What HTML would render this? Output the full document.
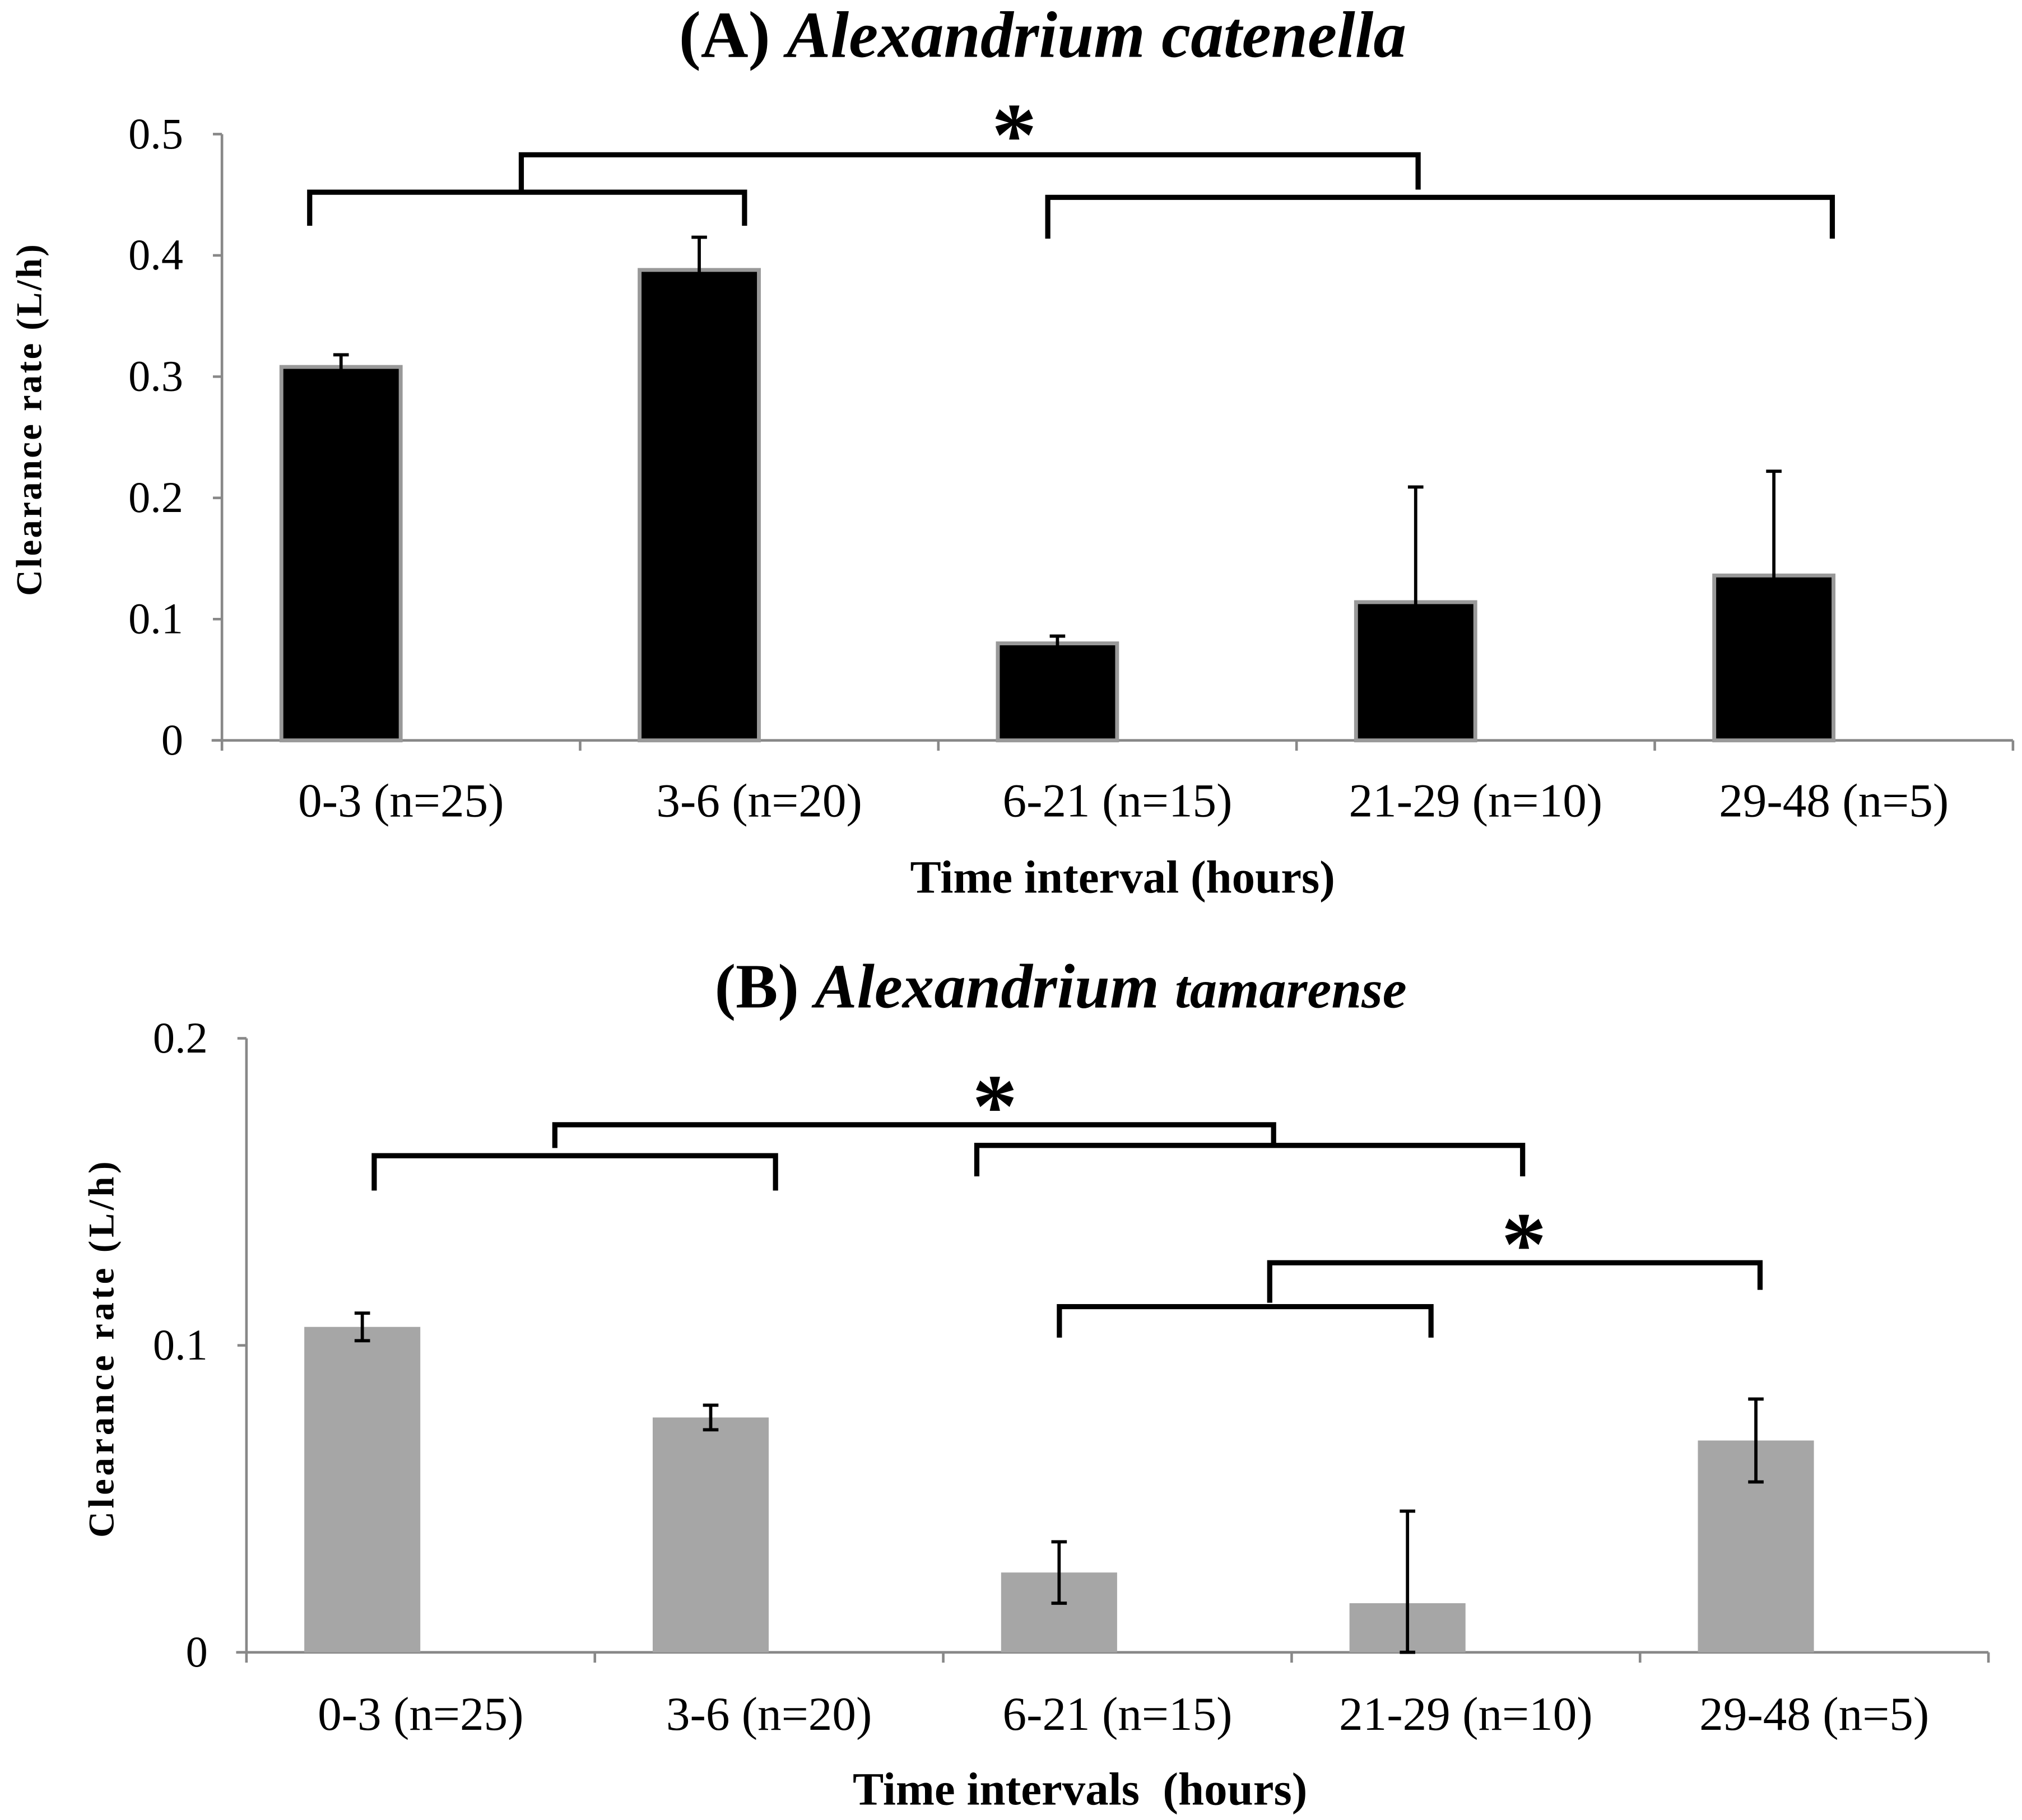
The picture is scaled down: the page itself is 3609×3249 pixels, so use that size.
<!DOCTYPE html>
<html><head><meta charset="utf-8"><style>
html,body{margin:0;padding:0;background:#fff}
svg{display:block}
text{font-family:"Liberation Serif",serif}
</style></head><body>
<svg id="chart" width="3609" height="3249" viewBox="0 0 1567 1411" preserveAspectRatio="none" xmlns="http://www.w3.org/2000/svg">
<rect width="1567" height="1411" fill="#fff"/>
<g id="pa"></g>
<g id="pb"></g>
</svg>
<script>
const categories = ["0-3 (n=25)","3-6 (n=20)","6-21 (n=15)","21-29 (n=10)","29-48 (n=5)"];
const valuesA = [0.308,0.388,0.080,0.114,0.136];
const errorsA = [0.010,0.027,0.006,0.095,0.086];
const ticksA = [0,0.1,0.2,0.3,0.4,0.5];
const tickLabelsA = ["0","0.1","0.2","0.3","0.4","0.5"];
const valuesB = [0.106,0.0765,0.026,0.016,0.069];
const errorsB = [0.0045,0.004,0.010,0.030,0.0135];
const ticksB = [0,0.1,0.2];
const tickLabelsB = ["0","0.1","0.2"];

const NS="http://www.w3.org/2000/svg";
function mk(parent,tag,attrs,txt){const e=document.createElementNS(NS,tag);for(const k in attrs)e.setAttribute(k,attrs[k]);if(txt!==undefined)e.textContent=txt;parent.appendChild(e);return e;}

function panel(g,cfg){
  const {x0,x1,yTop,yBot,max,vals,errs,ticks,labels,fill,stroke}=cfg;
  const y=v=>yBot-(v/max)*(yBot-yTop);
  const cw=(x1-x0)/categories.length;
  const ax=mk(g,'line',{x1:x0,y1:yTop,x2:x0,y2:yBot,stroke:'#888',"stroke-width":2});
  
  
  const bx=mk(g,'line',{x1:x0-8,y1:yBot,x2:x1,y2:yBot,stroke:'#888',"stroke-width":2});
  
  
  ticks.forEach((t,i)=>{
    const tk=mk(g,'line',{x1:x0-7,y1:y(t),x2:x0,y2:y(t),stroke:'#888',"stroke-width":2});
    
    
    const tl=mk(g,'text',{x:x0-30,y:y(t)+11,"text-anchor":"end","font-size":34},labels[i]);
    
    
  });
  for(let i=0;i<=categories.length;i++){
    const xt=x0+i*cw;
    const t=mk(g,'line',{x1:xt,y1:yBot,x2:xt,y2:yBot+8,stroke:'#888',"stroke-width":2});
    
    
  }
  categories.forEach((c,i)=>{
    const cx=x0+i*cw;
    const bl=cx+cw*0.166, bw=cw*0.333;
    const r=mk(g,'rect',{x:bl,y:y(vals[i]),width:bw,height:yBot-y(vals[i]),fill:fill,stroke:stroke||'none',"stroke-width":stroke?3:0});
    
    
    const mx=bl+bw/2, top=y(vals[i]+errs[i]), bot=y(Math.max(0,vals[i]-errs[i]));
    const e=mk(g,'path',{d:`M${mx},${bot}V${top}M${mx-6},${top}H${mx+6}`+(stroke?'':`M${mx-6},${bot}H${mx+6}`),stroke:'#000',"stroke-width":2.5,fill:'none'});
    
    
    const l=mk(g,'text',{x:cx+cw/2,y:cfg.labY,"text-anchor":"middle","font-size":37},c);
    
    
  });
}
function bracket(g,x1,x2,yt,yl,yr){
  const p=mk(g,'path',{d:`M${x1},${yl}V${yt}H${x2}V${yr}`,stroke:'#000',"stroke-width":4,fill:'none'});
  
  
}
function star(g,x,yy){
  const s=mk(g,'text',{x:x,y:yy,"text-anchor":"middle","font-size":70,"font-weight":"bold"},'*');
  
  
}
const A=document.getElementById('pa'), B=document.getElementById('pb');
panel(A,{x0:172,x1:1560,yTop:104,yBot:574,max:0.5,vals:valuesA,errs:errorsA,ticks:ticksA,labels:tickLabelsA,fill:'#000',stroke:'#999',labY:633});
panel(B,{x0:191,x1:1541,yTop:805,yBot:1281,max:0.2,vals:valuesB,errs:errorsB,ticks:ticksB,labels:tickLabelsB,fill:'#a6a6a6',labY:1341});
bracket(A,240,577,149,175,175); bracket(A,404,1099,120,149,147); bracket(A,812,1420,153,185,185); star(A,786,128);
bracket(B,290,601,896,923,923); bracket(B,430,987,872,890,888); bracket(B,757,1180,888,912,912); star(B,771,881);
bracket(B,821,1109,1013,1037,1037); bracket(B,984,1364,979,1010,1000); star(B,1181,988);
</script>
<svg style="position:absolute;left:0;top:0" width="3609" height="3249" viewBox="0 0 1567 1411" preserveAspectRatio="none">
<text x="808" y="44" text-anchor="middle" font-size="51" font-weight="bold">(A) <tspan font-style="italic">Alexandrium catenella</tspan></text>
<text transform="translate(32,325) rotate(-90)" text-anchor="middle" font-size="28" font-weight="bold" letter-spacing="1.5">Clearance rate (L/h)</text>
<text x="870" y="692" text-anchor="middle" font-size="36" font-weight="bold">Time interval (hours)</text>
<text x="822" y="781" text-anchor="middle" font-size="49" font-weight="bold">(B) <tspan font-style="italic">Alexandrium</tspan> <tspan font-style="italic" font-size="42">tamarense</tspan></text>
<text transform="translate(88,1045) rotate(-90)" text-anchor="middle" font-size="28" font-weight="bold" letter-spacing="2.5">Clearance rate  (L/h)</text>
<text x="837" y="1399" text-anchor="middle" font-size="36" font-weight="bold" xml:space="preserve">Time intervals  (hours)</text>
</svg>
</body></html>
